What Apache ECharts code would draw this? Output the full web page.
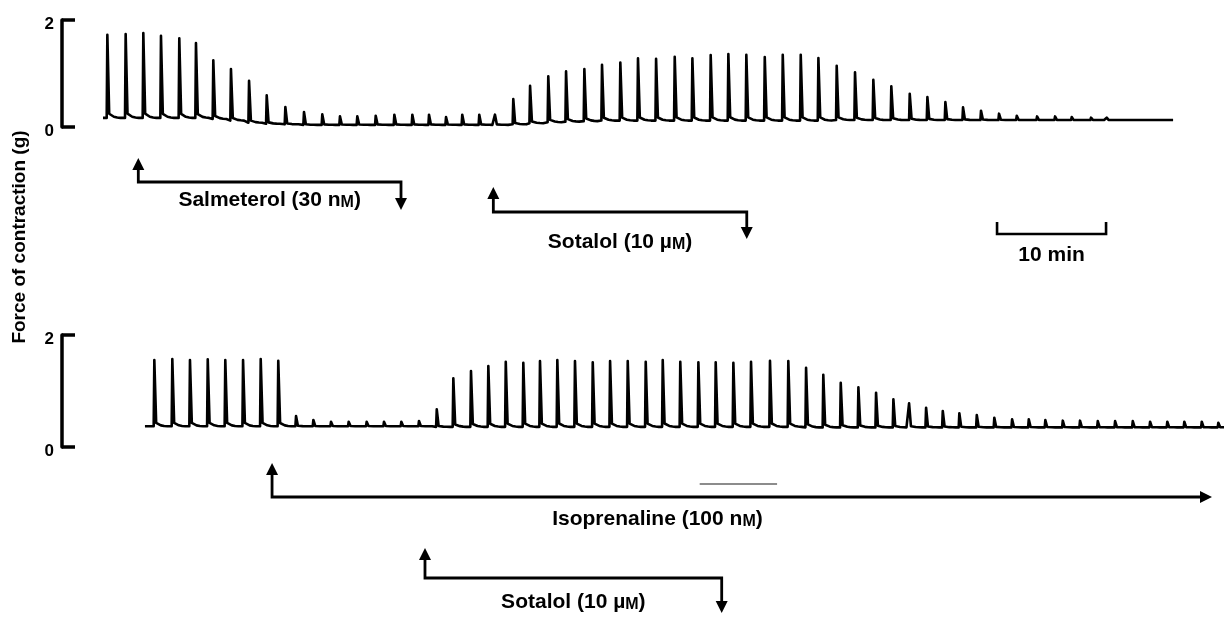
<!DOCTYPE html>
<html><head><meta charset="utf-8">
<script src="https://cdn.jsdelivr.net/npm/echarts@6/dist/echarts.min.js"></script>
<style>html,body{margin:0;padding:0;background:#fff}#c{width:1224px;height:617px}</style>
</head><body><div id="c"></div>
<script>
// ===== DATA (time in minutes, force in g) =====
const yTickValues = [0, 2];
const timeRange = [0, 106.6];

// Top trace: salmeterol then sotalol
const topTraceSpan = [3.76, 101.9];
const topBeatTimes = [4.16,5.84,7.46,9.08,10.76,12.29,13.88,15.50,17.16,18.78,
  20.49,22.20,23.88,25.50,27.09,28.78,30.49,32.14,33.67,35.23,
  36.72,38.28,39.72,41.40,42.94,44.61,46.24,47.92,49.54,51.22,
  52.84,54.50,56.21,57.83,59.51,61.13,62.78,64.47,66.12,67.77,
  69.39,71.07,72.75,74.43,76.08,77.77,79.39,81.04,82.66,84.31,
  85.96,87.59,89.45,91.10,92.63,94.40,95.84,97.52,99.17,100.73];
const topPeaks = [1.725,1.738,1.757,1.707,1.656,1.570,1.245,1.084,0.865,0.591,
  0.374,0.280,0.236,0.198,0.198,0.211,0.230,0.230,0.230,0.187,
  0.230,0.230,0.230,0.523,0.772,0.946,1.039,1.084,1.164,1.207,
  1.282,1.277,1.314,1.282,1.346,1.364,1.351,1.308,1.351,1.351,
  1.290,1.146,1.021,0.884,0.759,0.622,0.561,0.467,0.366,0.305,
  0.249,0.211,0.198,0.198,0.187,0.174,0.174,0.165,0.165,0.165];
const topBaseline = [0.17,0.17,0.17,0.17,0.17,0.17,0.15,0.12,0.08,0.06,
  0.05,0.04,0.04,0.04,0.04,0.04,0.04,0.04,0.04,0.04,
  0.04,0.04,0.04,0.05,0.07,0.09,0.10,0.11,0.12,0.12,
  0.12,0.12,0.12,0.12,0.12,0.12,0.12,0.12,0.12,0.12,
  0.12,0.13,0.13,0.13,0.13,0.13,0.13,0.13,0.13,0.13,
  0.13,0.13,0.13,0.13,0.13,0.13,0.13,0.13,0.13,0.13];

// Bottom trace: sotalol then isoprenaline
const bottomTraceSpan = [7.61, 106.6];
const bottomBeatTimes = [8.47,10.12,11.74,13.37,14.98,16.61,18.23,19.84,21.47,23.06,
  24.68,26.30,27.95,29.54,31.13,32.75,34.38,35.90,37.52,39.11,
  40.71,42.32,43.85,45.44,47.06,48.69,50.28,51.90,53.55,55.11,
  56.72,58.38,59.97,61.59,63.21,64.95,66.63,68.26,69.84,71.44,
  73.06,74.68,76.27,77.71,79.27,80.80,82.32,83.92,85.53,87.16,
  88.69,90.21,91.81,93.39,95.02,96.61,98.23,99.82,101.40,102.96,
  104.56,106.08];
const bottomPeaks = [1.554,1.571,1.554,1.566,1.554,1.554,1.571,1.541,0.554,0.482,
  0.452,0.452,0.452,0.452,0.452,0.464,0.673,1.227,1.357,1.446,
  1.523,1.505,1.536,1.554,1.536,1.513,1.536,1.536,1.523,1.554,
  1.523,1.513,1.513,1.505,1.523,1.541,1.536,1.416,1.290,1.148,
  1.066,0.970,0.852,0.780,0.702,0.643,0.602,0.571,0.523,0.495,
  0.495,0.482,0.470,0.470,0.464,0.464,0.464,0.452,0.452,0.452,
  0.452,0.434];
const bottomBaseline = [0.37,0.37,0.37,0.37,0.37,0.37,0.37,0.37,0.37,0.37,
  0.37,0.37,0.37,0.37,0.37,0.37,0.36,0.36,0.36,0.36,
  0.36,0.36,0.36,0.36,0.36,0.36,0.36,0.36,0.36,0.36,
  0.36,0.36,0.36,0.36,0.36,0.36,0.36,0.35,0.35,0.35,
  0.35,0.35,0.35,0.35,0.35,0.35,0.35,0.35,0.35,0.35,
  0.35,0.35,0.35,0.35,0.35,0.35,0.35,0.35,0.35,0.35,
  0.35,0.35];

// Drug applications (minutes)
const drugLabels = ['Salmeterol (30 nM)', 'Sotalol (10 µM)', 'Isoprenaline (100 nM)', 'Sotalol (10 µM)'];
const drugStart = [7.00, 39.57, 19.27, 33.30];
const drugEnd   = [31.10, 62.82, 105.5, 60.52];
const timeScaleBar = [85.78, 95.78];   // 10 min
const timeScaleLabel = '10 min';
const yAxisTitle = 'Force of contraction (g)';
const scanMark = [58.5, 65.6];

// ===== STYLE / LAYOUT =====
const FONT = '"Liberation Sans", Arial, Helvetica, sans-serif';
// twitch waveform template: [time offset (min), fraction of amplitude]
const pulseShape = [[-0.06,0],[0,1],[0.17,0.05],[0.32,0.03],[0.6,0.014],[0.9,0.005],[1.2,0]];
const annotLayout = [
  {tipY:158, lineY:182, endY:210, textY:200, end:'down', textPos:0.5},
  {tipY:187, lineY:212, endY:239, textY:242, end:'down', textPos:0.5},
  {tipY:463, lineY:497, textY:519, end:'right', textPos:0.41},
  {tipY:548, lineY:578, endY:613, textY:602, end:'down', textPos:0.5}
];

function buildTrace(span, times, peaks, base) {
  const pts = [[span[0], base[0]]];
  times.forEach((t, i) => {
    const b = base[i], a = peaks[i] - b;
    pulseShape.forEach(([dt, f]) => pts.push([+(t + dt).toFixed(3), b + f * a]));
  });
  pts.push([span[1], base[base.length - 1]]);
  return pts;
}

function richLabel(s) { return s.replace(/([nµ])M\)/, '$1{sc|M})'); }

const chart = echarts.init(document.getElementById('c'), null, {renderer: 'canvas'});

const yAxisCommon = {
  type: 'value', min: yTickValues[0], max: yTickValues[1], interval: 2,
  axisLine: {show: true, onZero: false, lineStyle: {color: '#000', width: 3.5}},
  axisTick: {show: true, inside: true, length: 13, lineStyle: {color: '#000', width: 3.5}},
  axisLabel: {
    show: true, margin: 8, color: '#000',
    formatter: v => '{s| }\n{v|' + v + '}',
    rich: {
      s: {fontSize: 1, lineHeight: 8},
      v: {fontSize: 17, lineHeight: 17, fontWeight: 'bold', fontFamily: FONT, color: '#000'}
    }
  },
  splitLine: {show: false}
};
const xAxisCommon = {type: 'value', min: timeRange[0], max: timeRange[1], show: false};

const option = {
  animation: false,
  backgroundColor: '#fff',
  grid: [
    {left: 62, right: 0, top: 20, height: 107, outerBoundsMode: 'none'},
    {left: 62, right: 0, top: 335, height: 112, outerBoundsMode: 'none'},
    {left: 62, right: 0, top: 0, bottom: 0, outerBoundsMode: 'none'}
  ],
  xAxis: [
    Object.assign({gridIndex: 0}, xAxisCommon),
    Object.assign({gridIndex: 1}, xAxisCommon),
    Object.assign({gridIndex: 2}, xAxisCommon)
  ],
  yAxis: [
    Object.assign({gridIndex: 0}, yAxisCommon),
    Object.assign({gridIndex: 1}, yAxisCommon),
    {gridIndex: 2, type: 'value', min: 0, max: 1, show: false}
  ],
  graphic: [{
    type: 'text', x: 20, y: 237, rotation: Math.PI / 2,
    style: {text: yAxisTitle, fill: '#000', fontSize: 19, fontWeight: 'bold', fontFamily: FONT,
            align: 'center', verticalAlign: 'middle'}
  }],
  series: [
    {
      type: 'line', xAxisIndex: 0, yAxisIndex: 0, symbol: 'none', smooth: false,
      lineStyle: {color: '#000', width: 2.6, join: 'round'},
      data: buildTrace(topTraceSpan, topBeatTimes, topPeaks, topBaseline)
    },
    {
      type: 'line', xAxisIndex: 1, yAxisIndex: 1, symbol: 'none', smooth: false,
      lineStyle: {color: '#000', width: 2.6, join: 'round'},
      data: buildTrace(bottomTraceSpan, bottomBeatTimes, bottomPeaks, bottomBaseline)
    },
    {
      type: 'custom', xAxisIndex: 2, yAxisIndex: 2, silent: true,
      data: drugStart.map((s, i) => [s, drugEnd[i]]),
      renderItem: function (params, api) {
        const i = params.dataIndex, L = annotLayout[i];
        const x1 = api.coord([drugStart[i], 0])[0];
        const x2 = api.coord([drugEnd[i], 0])[0];
        const lw = 2.8, hw = 6, hh = 12;
        const pts = [[x1, L.tipY + hh - 1], [x1, L.lineY]];
        const children = [];
        let head2;
        if (L.end === 'down') {
          pts.push([x2, L.lineY], [x2, L.endY - hh + 1]);
          head2 = [[x2, L.endY], [x2 - hw, L.endY - hh], [x2 + hw, L.endY - hh]];
        } else {
          pts.push([x2 - hh + 1, L.lineY]);
          head2 = [[x2, L.lineY], [x2 - hh, L.lineY - hw], [x2 - hh, L.lineY + hw]];
        }
        children.push({type: 'polyline', shape: {points: pts}, style: {stroke: '#000', lineWidth: lw, fill: null, lineJoin: 'miter'}});
        children.push({type: 'polygon', shape: {points: [[x1, L.tipY], [x1 - hw, L.tipY + hh], [x1 + hw, L.tipY + hh]]}, style: {fill: '#000'}});
        children.push({type: 'polygon', shape: {points: head2}, style: {fill: '#000'}});
        children.push({type: 'text', x: x1 + (x2 - x1) * L.textPos, y: L.textY,
          style: {text: richLabel(drugLabels[i]), fill: '#000', fontSize: 21, fontWeight: 'bold', fontFamily: FONT,
                  align: 'center', verticalAlign: 'middle',
                  rich: {sc: {fontSize: 16, fontWeight: 'bold', fontFamily: FONT, fill: '#000', verticalAlign: 'bottom'}}}});
        return {type: 'group', children: children};
      }
    },
    {
      type: 'custom', xAxisIndex: 2, yAxisIndex: 2, silent: true,
      data: [[timeScaleBar[0], timeScaleBar[1]]],
      renderItem: function (params, api) {
        const x1 = api.coord([timeScaleBar[0], 0])[0];
        const x2 = api.coord([timeScaleBar[1], 0])[0];
        return {type: 'group', children: [
          {type: 'polyline', shape: {points: [[x1, 222], [x1, 234], [x2, 234], [x2, 222]]},
           style: {stroke: '#000', lineWidth: 2.6, fill: null, lineJoin: 'miter'}},
          {type: 'text', x: (x1 + x2) / 2, y: 255,
           style: {text: timeScaleLabel, fill: '#000', fontSize: 21, fontWeight: 'bold', fontFamily: FONT,
                   align: 'center', verticalAlign: 'middle'}}
        ]};
      }
    },
    {
      type: 'custom', xAxisIndex: 2, yAxisIndex: 2, silent: true,
      data: [[scanMark[0], scanMark[1]]],
      renderItem: function (params, api) {
        const x1 = api.coord([scanMark[0], 0])[0];
        const x2 = api.coord([scanMark[1], 0])[0];
        return {type: 'line', shape: {x1: x1, y1: 484, x2: x2, y2: 484}, style: {stroke: '#666', lineWidth: 1.4}};
      }
    }
  ]
};
chart.setOption(option);
</script></body></html>
